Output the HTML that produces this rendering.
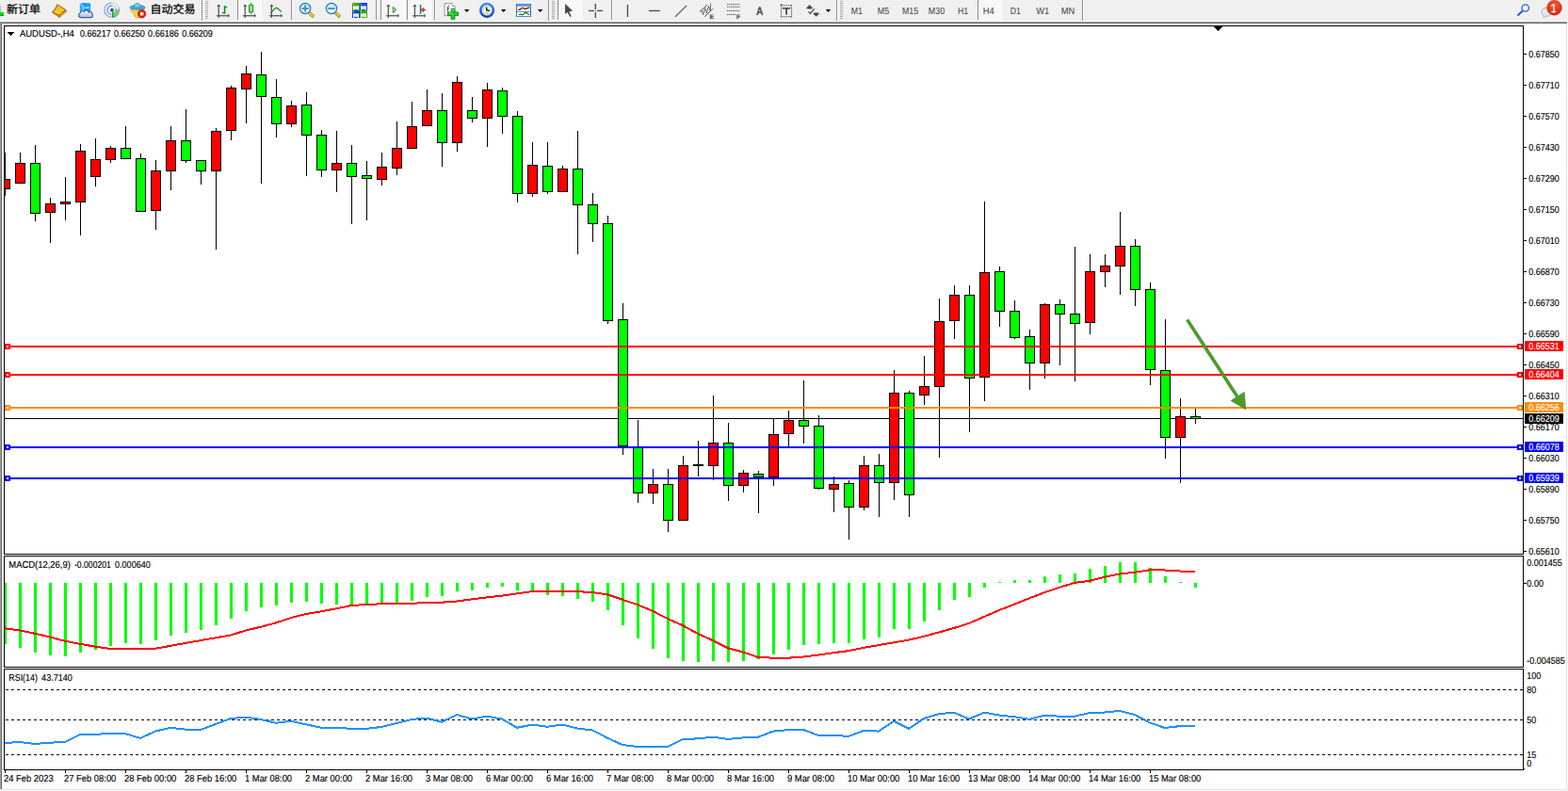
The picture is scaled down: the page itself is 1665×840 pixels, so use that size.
<!DOCTYPE html>
<html><head><meta charset="utf-8"><title>AUDUSD H4</title>
<style>
html,body{margin:0;padding:0;background:#fff;overflow:hidden}
svg{display:block;font-family:"Liberation Sans",sans-serif}
text{white-space:pre;text-rendering:geometricPrecision}
</style></head><body>
<svg width="1665" height="840" viewBox="0 0 1665 840">
<rect x="0" y="0" width="1665" height="840" fill="#ffffff"/>
<rect x="0" y="0" width="1665" height="23" fill="#f0f0f0"/>
<rect x="0" y="22" width="1665" height="1" fill="#f8f8f8"/>
<rect x="0" y="23" width="1664" height="1" fill="#a0a0a0"/>
<rect x="1" y="24" width="1663" height="1" fill="#696969"/>
<rect x="0" y="23" width="1" height="815" fill="#a0a0a0"/>
<rect x="1" y="24" width="1" height="814" fill="#696969"/>
<rect x="1663" y="25" width="1" height="814" fill="#e3e3e3"/>
<rect x="0" y="838" width="1664" height="1" fill="#e3e3e3"/>
<rect x="0" y="839" width="1665" height="1" fill="#ffffff"/>
<rect x="1664" y="23" width="1" height="817" fill="#fcfcfc"/>
<rect x="4" y="27" width="1614" height="1" fill="#000"/>
<rect x="4" y="588" width="1614" height="1" fill="#000"/>
<rect x="4" y="27" width="1" height="562" fill="#000"/>
<rect x="1617" y="27" width="1" height="562" fill="#000"/>
<rect x="4" y="590" width="1614" height="1" fill="#000"/>
<rect x="4" y="708" width="1614" height="1" fill="#000"/>
<rect x="4" y="590" width="1" height="119" fill="#000"/>
<rect x="1617" y="590" width="1" height="119" fill="#000"/>
<rect x="4" y="710" width="1614" height="1" fill="#000"/>
<rect x="4" y="817" width="1614" height="1" fill="#000"/>
<rect x="4" y="710" width="1" height="108" fill="#000"/>
<rect x="1617" y="710" width="1" height="108" fill="#000"/>
<g shape-rendering="crispEdges">
<rect x="5" y="444" width="1612" height="1" fill="#000"/>
<rect x="5" y="162" width="1" height="46" fill="#000"/>
<rect x="5" y="190" width="6" height="11" fill="#000"/>
<rect x="5" y="191" width="5" height="9" fill="#ff0000"/>
<rect x="21" y="162" width="1" height="33" fill="#000"/>
<rect x="16" y="173" width="11" height="22" fill="#000"/>
<rect x="17" y="174" width="9" height="20" fill="#ff0000"/>
<rect x="37" y="154" width="1" height="81" fill="#000"/>
<rect x="32" y="173" width="11" height="54" fill="#000"/>
<rect x="33" y="174" width="9" height="52" fill="#00ff00"/>
<rect x="53" y="210" width="1" height="48" fill="#000"/>
<rect x="48" y="216" width="11" height="10" fill="#000"/>
<rect x="49" y="217" width="9" height="8" fill="#ff0000"/>
<rect x="69" y="188" width="1" height="46" fill="#000"/>
<rect x="64" y="214" width="11" height="3" fill="#000"/>
<rect x="65" y="215" width="9" height="1" fill="#ff0000"/>
<rect x="85" y="153" width="1" height="97" fill="#000"/>
<rect x="80" y="160" width="11" height="55" fill="#000"/>
<rect x="81" y="161" width="9" height="53" fill="#ff0000"/>
<rect x="101" y="147" width="1" height="51" fill="#000"/>
<rect x="96" y="169" width="11" height="19" fill="#000"/>
<rect x="97" y="170" width="9" height="17" fill="#ff0000"/>
<rect x="117" y="155" width="1" height="18" fill="#000"/>
<rect x="112" y="157" width="11" height="13" fill="#000"/>
<rect x="113" y="158" width="9" height="11" fill="#ff0000"/>
<rect x="133" y="134" width="1" height="35" fill="#000"/>
<rect x="128" y="157" width="11" height="12" fill="#000"/>
<rect x="129" y="158" width="9" height="10" fill="#00ff00"/>
<rect x="149" y="163" width="1" height="62" fill="#000"/>
<rect x="144" y="168" width="11" height="57" fill="#000"/>
<rect x="145" y="169" width="9" height="55" fill="#00ff00"/>
<rect x="165" y="170" width="1" height="74" fill="#000"/>
<rect x="160" y="181" width="11" height="43" fill="#000"/>
<rect x="161" y="182" width="9" height="41" fill="#ff0000"/>
<rect x="181" y="134" width="1" height="68" fill="#000"/>
<rect x="176" y="149" width="11" height="33" fill="#000"/>
<rect x="177" y="150" width="9" height="31" fill="#ff0000"/>
<rect x="197" y="116" width="1" height="57" fill="#000"/>
<rect x="192" y="149" width="11" height="22" fill="#000"/>
<rect x="193" y="150" width="9" height="20" fill="#00ff00"/>
<rect x="213" y="170" width="1" height="26" fill="#000"/>
<rect x="208" y="170" width="11" height="12" fill="#000"/>
<rect x="209" y="171" width="9" height="10" fill="#00ff00"/>
<rect x="229" y="136" width="1" height="129" fill="#000"/>
<rect x="224" y="139" width="11" height="43" fill="#000"/>
<rect x="225" y="140" width="9" height="41" fill="#ff0000"/>
<rect x="245" y="91" width="1" height="58" fill="#000"/>
<rect x="240" y="93" width="11" height="46" fill="#000"/>
<rect x="241" y="94" width="9" height="44" fill="#ff0000"/>
<rect x="261" y="70" width="1" height="61" fill="#000"/>
<rect x="256" y="78" width="11" height="17" fill="#000"/>
<rect x="257" y="79" width="9" height="15" fill="#ff0000"/>
<rect x="277" y="55" width="1" height="140" fill="#000"/>
<rect x="272" y="79" width="11" height="24" fill="#000"/>
<rect x="273" y="80" width="9" height="22" fill="#00ff00"/>
<rect x="293" y="84" width="1" height="62" fill="#000"/>
<rect x="288" y="103" width="11" height="29" fill="#000"/>
<rect x="289" y="104" width="9" height="27" fill="#00ff00"/>
<rect x="309" y="107" width="1" height="28" fill="#000"/>
<rect x="304" y="112" width="11" height="20" fill="#000"/>
<rect x="305" y="113" width="9" height="18" fill="#ff0000"/>
<rect x="325" y="98" width="1" height="89" fill="#000"/>
<rect x="320" y="111" width="11" height="33" fill="#000"/>
<rect x="321" y="112" width="9" height="31" fill="#00ff00"/>
<rect x="341" y="138" width="1" height="50" fill="#000"/>
<rect x="336" y="143" width="11" height="38" fill="#000"/>
<rect x="337" y="144" width="9" height="36" fill="#00ff00"/>
<rect x="357" y="139" width="1" height="65" fill="#000"/>
<rect x="352" y="173" width="11" height="8" fill="#000"/>
<rect x="353" y="174" width="9" height="6" fill="#ff0000"/>
<rect x="373" y="154" width="1" height="84" fill="#000"/>
<rect x="368" y="173" width="11" height="15" fill="#000"/>
<rect x="369" y="174" width="9" height="13" fill="#00ff00"/>
<rect x="389" y="171" width="1" height="63" fill="#000"/>
<rect x="384" y="186" width="11" height="4" fill="#000"/>
<rect x="385" y="187" width="9" height="2" fill="#00ff00"/>
<rect x="405" y="162" width="1" height="35" fill="#000"/>
<rect x="400" y="177" width="11" height="14" fill="#000"/>
<rect x="401" y="178" width="9" height="12" fill="#ff0000"/>
<rect x="421" y="129" width="1" height="57" fill="#000"/>
<rect x="416" y="157" width="11" height="22" fill="#000"/>
<rect x="417" y="158" width="9" height="20" fill="#ff0000"/>
<rect x="437" y="108" width="1" height="50" fill="#000"/>
<rect x="432" y="134" width="11" height="24" fill="#000"/>
<rect x="433" y="135" width="9" height="22" fill="#ff0000"/>
<rect x="453" y="95" width="1" height="39" fill="#000"/>
<rect x="448" y="117" width="11" height="17" fill="#000"/>
<rect x="449" y="118" width="9" height="15" fill="#ff0000"/>
<rect x="469" y="99" width="1" height="78" fill="#000"/>
<rect x="464" y="117" width="11" height="35" fill="#000"/>
<rect x="465" y="118" width="9" height="33" fill="#00ff00"/>
<rect x="485" y="81" width="1" height="80" fill="#000"/>
<rect x="480" y="87" width="11" height="65" fill="#000"/>
<rect x="481" y="88" width="9" height="63" fill="#ff0000"/>
<rect x="501" y="103" width="1" height="27" fill="#000"/>
<rect x="496" y="117" width="11" height="9" fill="#000"/>
<rect x="497" y="118" width="9" height="7" fill="#00ff00"/>
<rect x="517" y="88" width="1" height="68" fill="#000"/>
<rect x="512" y="95" width="11" height="31" fill="#000"/>
<rect x="513" y="96" width="9" height="29" fill="#ff0000"/>
<rect x="533" y="93" width="1" height="49" fill="#000"/>
<rect x="528" y="96" width="11" height="28" fill="#000"/>
<rect x="529" y="97" width="9" height="26" fill="#00ff00"/>
<rect x="549" y="118" width="1" height="97" fill="#000"/>
<rect x="544" y="123" width="11" height="83" fill="#000"/>
<rect x="545" y="124" width="9" height="81" fill="#00ff00"/>
<rect x="565" y="151" width="1" height="58" fill="#000"/>
<rect x="560" y="175" width="11" height="31" fill="#000"/>
<rect x="561" y="176" width="9" height="29" fill="#ff0000"/>
<rect x="581" y="151" width="1" height="55" fill="#000"/>
<rect x="576" y="176" width="11" height="28" fill="#000"/>
<rect x="577" y="177" width="9" height="26" fill="#00ff00"/>
<rect x="597" y="176" width="1" height="28" fill="#000"/>
<rect x="592" y="179" width="11" height="25" fill="#000"/>
<rect x="593" y="180" width="9" height="23" fill="#ff0000"/>
<rect x="613" y="139" width="1" height="131" fill="#000"/>
<rect x="608" y="179" width="11" height="39" fill="#000"/>
<rect x="609" y="180" width="9" height="37" fill="#00ff00"/>
<rect x="629" y="205" width="1" height="52" fill="#000"/>
<rect x="624" y="217" width="11" height="21" fill="#000"/>
<rect x="625" y="218" width="9" height="19" fill="#00ff00"/>
<rect x="645" y="229" width="1" height="115" fill="#000"/>
<rect x="640" y="237" width="11" height="104" fill="#000"/>
<rect x="641" y="238" width="9" height="102" fill="#00ff00"/>
<rect x="661" y="322" width="1" height="161" fill="#000"/>
<rect x="656" y="339" width="11" height="135" fill="#000"/>
<rect x="657" y="340" width="9" height="133" fill="#00ff00"/>
<rect x="677" y="446" width="1" height="88" fill="#000"/>
<rect x="672" y="474" width="11" height="50" fill="#000"/>
<rect x="673" y="475" width="9" height="48" fill="#00ff00"/>
<rect x="693" y="498" width="1" height="37" fill="#000"/>
<rect x="688" y="514" width="11" height="10" fill="#000"/>
<rect x="689" y="515" width="9" height="8" fill="#ff0000"/>
<rect x="709" y="498" width="1" height="67" fill="#000"/>
<rect x="704" y="514" width="11" height="39" fill="#000"/>
<rect x="705" y="515" width="9" height="37" fill="#00ff00"/>
<rect x="725" y="484" width="1" height="69" fill="#000"/>
<rect x="720" y="494" width="11" height="59" fill="#000"/>
<rect x="721" y="495" width="9" height="57" fill="#ff0000"/>
<rect x="741" y="468" width="1" height="38" fill="#000"/>
<rect x="736" y="493" width="11" height="2" fill="#000"/>
<rect x="757" y="420" width="1" height="90" fill="#000"/>
<rect x="752" y="470" width="11" height="25" fill="#000"/>
<rect x="753" y="471" width="9" height="23" fill="#ff0000"/>
<rect x="773" y="449" width="1" height="83" fill="#000"/>
<rect x="768" y="470" width="11" height="46" fill="#000"/>
<rect x="769" y="471" width="9" height="44" fill="#00ff00"/>
<rect x="789" y="499" width="1" height="24" fill="#000"/>
<rect x="784" y="502" width="11" height="14" fill="#000"/>
<rect x="785" y="503" width="9" height="12" fill="#ff0000"/>
<rect x="805" y="500" width="1" height="45" fill="#000"/>
<rect x="800" y="503" width="11" height="4" fill="#000"/>
<rect x="801" y="504" width="9" height="2" fill="#00ff00"/>
<rect x="821" y="444" width="1" height="72" fill="#000"/>
<rect x="816" y="461" width="11" height="46" fill="#000"/>
<rect x="817" y="462" width="9" height="44" fill="#ff0000"/>
<rect x="837" y="436" width="1" height="38" fill="#000"/>
<rect x="832" y="446" width="11" height="15" fill="#000"/>
<rect x="833" y="447" width="9" height="13" fill="#ff0000"/>
<rect x="853" y="404" width="1" height="67" fill="#000"/>
<rect x="848" y="446" width="11" height="7" fill="#000"/>
<rect x="849" y="447" width="9" height="5" fill="#00ff00"/>
<rect x="869" y="441" width="1" height="79" fill="#000"/>
<rect x="864" y="452" width="11" height="67" fill="#000"/>
<rect x="865" y="453" width="9" height="65" fill="#00ff00"/>
<rect x="885" y="506" width="1" height="38" fill="#000"/>
<rect x="880" y="514" width="11" height="6" fill="#000"/>
<rect x="881" y="515" width="9" height="4" fill="#ff0000"/>
<rect x="901" y="510" width="1" height="63" fill="#000"/>
<rect x="896" y="513" width="11" height="26" fill="#000"/>
<rect x="897" y="514" width="9" height="24" fill="#00ff00"/>
<rect x="917" y="484" width="1" height="58" fill="#000"/>
<rect x="912" y="494" width="11" height="45" fill="#000"/>
<rect x="913" y="495" width="9" height="43" fill="#ff0000"/>
<rect x="933" y="482" width="1" height="67" fill="#000"/>
<rect x="928" y="494" width="11" height="19" fill="#000"/>
<rect x="929" y="495" width="9" height="17" fill="#00ff00"/>
<rect x="949" y="393" width="1" height="138" fill="#000"/>
<rect x="944" y="417" width="11" height="96" fill="#000"/>
<rect x="945" y="418" width="9" height="94" fill="#ff0000"/>
<rect x="965" y="415" width="1" height="134" fill="#000"/>
<rect x="960" y="417" width="11" height="109" fill="#000"/>
<rect x="961" y="418" width="9" height="107" fill="#00ff00"/>
<rect x="981" y="378" width="1" height="52" fill="#000"/>
<rect x="976" y="410" width="11" height="10" fill="#000"/>
<rect x="977" y="411" width="9" height="8" fill="#ff0000"/>
<rect x="997" y="317" width="1" height="169" fill="#000"/>
<rect x="992" y="341" width="11" height="70" fill="#000"/>
<rect x="993" y="342" width="9" height="68" fill="#ff0000"/>
<rect x="1013" y="303" width="1" height="57" fill="#000"/>
<rect x="1008" y="313" width="11" height="28" fill="#000"/>
<rect x="1009" y="314" width="9" height="26" fill="#ff0000"/>
<rect x="1029" y="303" width="1" height="156" fill="#000"/>
<rect x="1024" y="313" width="11" height="89" fill="#000"/>
<rect x="1025" y="314" width="9" height="87" fill="#00ff00"/>
<rect x="1045" y="214" width="1" height="212" fill="#000"/>
<rect x="1040" y="289" width="11" height="112" fill="#000"/>
<rect x="1041" y="290" width="9" height="110" fill="#ff0000"/>
<rect x="1061" y="283" width="1" height="64" fill="#000"/>
<rect x="1056" y="288" width="11" height="43" fill="#000"/>
<rect x="1057" y="289" width="9" height="41" fill="#00ff00"/>
<rect x="1077" y="319" width="1" height="41" fill="#000"/>
<rect x="1072" y="330" width="11" height="29" fill="#000"/>
<rect x="1073" y="331" width="9" height="27" fill="#00ff00"/>
<rect x="1093" y="350" width="1" height="64" fill="#000"/>
<rect x="1088" y="357" width="11" height="29" fill="#000"/>
<rect x="1089" y="358" width="9" height="27" fill="#00ff00"/>
<rect x="1109" y="322" width="1" height="80" fill="#000"/>
<rect x="1104" y="323" width="11" height="63" fill="#000"/>
<rect x="1105" y="324" width="9" height="61" fill="#ff0000"/>
<rect x="1125" y="318" width="1" height="70" fill="#000"/>
<rect x="1120" y="323" width="11" height="11" fill="#000"/>
<rect x="1121" y="324" width="9" height="9" fill="#00ff00"/>
<rect x="1141" y="262" width="1" height="143" fill="#000"/>
<rect x="1136" y="333" width="11" height="11" fill="#000"/>
<rect x="1137" y="334" width="9" height="9" fill="#00ff00"/>
<rect x="1157" y="270" width="1" height="85" fill="#000"/>
<rect x="1152" y="288" width="11" height="55" fill="#000"/>
<rect x="1153" y="289" width="9" height="53" fill="#ff0000"/>
<rect x="1173" y="270" width="1" height="35" fill="#000"/>
<rect x="1168" y="282" width="11" height="7" fill="#000"/>
<rect x="1169" y="283" width="9" height="5" fill="#ff0000"/>
<rect x="1189" y="225" width="1" height="88" fill="#000"/>
<rect x="1184" y="261" width="11" height="22" fill="#000"/>
<rect x="1185" y="262" width="9" height="20" fill="#ff0000"/>
<rect x="1205" y="254" width="1" height="71" fill="#000"/>
<rect x="1200" y="261" width="11" height="47" fill="#000"/>
<rect x="1201" y="262" width="9" height="45" fill="#00ff00"/>
<rect x="1221" y="300" width="1" height="109" fill="#000"/>
<rect x="1216" y="307" width="11" height="86" fill="#000"/>
<rect x="1217" y="308" width="9" height="84" fill="#00ff00"/>
<rect x="1237" y="339" width="1" height="148" fill="#000"/>
<rect x="1232" y="393" width="11" height="72" fill="#000"/>
<rect x="1233" y="394" width="9" height="70" fill="#00ff00"/>
<rect x="1253" y="423" width="1" height="90" fill="#000"/>
<rect x="1248" y="442" width="11" height="23" fill="#000"/>
<rect x="1249" y="443" width="9" height="21" fill="#ff0000"/>
<rect x="1269" y="433" width="1" height="17" fill="#000"/>
<rect x="1264" y="442" width="11" height="3" fill="#000"/>
<rect x="1265" y="443" width="9" height="1" fill="#00ff00"/>
</g>
<rect x="1618" y="57" width="3" height="1" fill="#000"/>
<text x="1623.3" y="61" font-size="10.2" fill="#000" text-anchor="start" stroke="#000" stroke-width="0.15" textLength="32.40" lengthAdjust="spacingAndGlyphs">0.67850</text>
<rect x="1618" y="90" width="3" height="1" fill="#000"/>
<text x="1623.3" y="94" font-size="10.2" fill="#000" text-anchor="start" stroke="#000" stroke-width="0.15" textLength="32.40" lengthAdjust="spacingAndGlyphs">0.67710</text>
<rect x="1618" y="123" width="3" height="1" fill="#000"/>
<text x="1623.3" y="127" font-size="10.2" fill="#000" text-anchor="start" stroke="#000" stroke-width="0.15" textLength="32.40" lengthAdjust="spacingAndGlyphs">0.67570</text>
<rect x="1618" y="156" width="3" height="1" fill="#000"/>
<text x="1623.3" y="160" font-size="10.2" fill="#000" text-anchor="start" stroke="#000" stroke-width="0.15" textLength="32.40" lengthAdjust="spacingAndGlyphs">0.67430</text>
<rect x="1618" y="189" width="3" height="1" fill="#000"/>
<text x="1623.3" y="193" font-size="10.2" fill="#000" text-anchor="start" stroke="#000" stroke-width="0.15" textLength="32.40" lengthAdjust="spacingAndGlyphs">0.67290</text>
<rect x="1618" y="222" width="3" height="1" fill="#000"/>
<text x="1623.3" y="226" font-size="10.2" fill="#000" text-anchor="start" stroke="#000" stroke-width="0.15" textLength="32.40" lengthAdjust="spacingAndGlyphs">0.67150</text>
<rect x="1618" y="255" width="3" height="1" fill="#000"/>
<text x="1623.3" y="259" font-size="10.2" fill="#000" text-anchor="start" stroke="#000" stroke-width="0.15" textLength="32.40" lengthAdjust="spacingAndGlyphs">0.67010</text>
<rect x="1618" y="288" width="3" height="1" fill="#000"/>
<text x="1623.3" y="292" font-size="10.2" fill="#000" text-anchor="start" stroke="#000" stroke-width="0.15" textLength="32.40" lengthAdjust="spacingAndGlyphs">0.66870</text>
<rect x="1618" y="321" width="3" height="1" fill="#000"/>
<text x="1623.3" y="325" font-size="10.2" fill="#000" text-anchor="start" stroke="#000" stroke-width="0.15" textLength="32.40" lengthAdjust="spacingAndGlyphs">0.66730</text>
<rect x="1618" y="354" width="3" height="1" fill="#000"/>
<text x="1623.3" y="358" font-size="10.2" fill="#000" text-anchor="start" stroke="#000" stroke-width="0.15" textLength="32.40" lengthAdjust="spacingAndGlyphs">0.66590</text>
<rect x="1618" y="387" width="3" height="1" fill="#000"/>
<text x="1623.3" y="391" font-size="10.2" fill="#000" text-anchor="start" stroke="#000" stroke-width="0.15" textLength="32.40" lengthAdjust="spacingAndGlyphs">0.66450</text>
<rect x="1618" y="420" width="3" height="1" fill="#000"/>
<text x="1623.3" y="424" font-size="10.2" fill="#000" text-anchor="start" stroke="#000" stroke-width="0.15" textLength="32.40" lengthAdjust="spacingAndGlyphs">0.66310</text>
<rect x="1618" y="453" width="3" height="1" fill="#000"/>
<text x="1623.3" y="457" font-size="10.2" fill="#000" text-anchor="start" stroke="#000" stroke-width="0.15" textLength="32.40" lengthAdjust="spacingAndGlyphs">0.66170</text>
<rect x="1618" y="486" width="3" height="1" fill="#000"/>
<text x="1623.3" y="490" font-size="10.2" fill="#000" text-anchor="start" stroke="#000" stroke-width="0.15" textLength="32.40" lengthAdjust="spacingAndGlyphs">0.66030</text>
<rect x="1618" y="519" width="3" height="1" fill="#000"/>
<text x="1623.3" y="523" font-size="10.2" fill="#000" text-anchor="start" stroke="#000" stroke-width="0.15" textLength="32.40" lengthAdjust="spacingAndGlyphs">0.65890</text>
<rect x="1618" y="552" width="3" height="1" fill="#000"/>
<text x="1623.3" y="556" font-size="10.2" fill="#000" text-anchor="start" stroke="#000" stroke-width="0.15" textLength="32.40" lengthAdjust="spacingAndGlyphs">0.65750</text>
<rect x="1618" y="585" width="3" height="1" fill="#000"/>
<text x="1623.3" y="589" font-size="10.2" fill="#000" text-anchor="start" stroke="#000" stroke-width="0.15" textLength="32.40" lengthAdjust="spacingAndGlyphs">0.65610</text>
<g shape-rendering="crispEdges">
<rect x="5" y="367" width="1612" height="2" fill="#ff0000"/>
<rect x="5" y="365" width="6" height="6" fill="#ff0000"/>
<rect x="7" y="367" width="2" height="2" fill="#fff"/>
<rect x="1611" y="365" width="6" height="6" fill="#ff0000"/>
<rect x="1613" y="367" width="2" height="2" fill="#fff"/>
<rect x="1619" y="362" width="41" height="11" fill="#ff0000"/>
<text x="1623.3" y="371.2" font-size="10.2" fill="#fff" text-anchor="start" stroke="#fff" stroke-width="0.15" textLength="32.40" lengthAdjust="spacingAndGlyphs">0.66531</text>
<rect x="5" y="397" width="1612" height="2" fill="#ff0000"/>
<rect x="5" y="395" width="6" height="6" fill="#ff0000"/>
<rect x="7" y="397" width="2" height="2" fill="#fff"/>
<rect x="1611" y="395" width="6" height="6" fill="#ff0000"/>
<rect x="1613" y="397" width="2" height="2" fill="#fff"/>
<rect x="1619" y="392" width="41" height="11" fill="#ff0000"/>
<text x="1623.3" y="401.2" font-size="10.2" fill="#fff" text-anchor="start" stroke="#fff" stroke-width="0.15" textLength="32.40" lengthAdjust="spacingAndGlyphs">0.66404</text>
<rect x="5" y="432" width="1612" height="2" fill="#ff8c00"/>
<rect x="5" y="430" width="6" height="6" fill="#ff8c00"/>
<rect x="7" y="432" width="2" height="2" fill="#fff"/>
<rect x="1611" y="430" width="6" height="6" fill="#ff8c00"/>
<rect x="1613" y="432" width="2" height="2" fill="#fff"/>
<rect x="1619" y="427" width="41" height="11" fill="#ff8c00"/>
<text x="1623.3" y="436.2" font-size="10.2" fill="#fff" text-anchor="start" stroke="#fff" stroke-width="0.15" textLength="32.40" lengthAdjust="spacingAndGlyphs">0.66256</text>
<rect x="5" y="474" width="1612" height="2" fill="#0000ff"/>
<rect x="5" y="472" width="6" height="6" fill="#0000ff"/>
<rect x="7" y="474" width="2" height="2" fill="#fff"/>
<rect x="1611" y="472" width="6" height="6" fill="#0000ff"/>
<rect x="1613" y="474" width="2" height="2" fill="#fff"/>
<rect x="1619" y="469" width="41" height="11" fill="#0000ff"/>
<text x="1623.3" y="478.2" font-size="10.2" fill="#fff" text-anchor="start" stroke="#fff" stroke-width="0.15" textLength="32.40" lengthAdjust="spacingAndGlyphs">0.66078</text>
<rect x="5" y="507" width="1612" height="2" fill="#0000ff"/>
<rect x="5" y="505" width="6" height="6" fill="#0000ff"/>
<rect x="7" y="507" width="2" height="2" fill="#fff"/>
<rect x="1611" y="505" width="6" height="6" fill="#0000ff"/>
<rect x="1613" y="507" width="2" height="2" fill="#fff"/>
<rect x="1619" y="502" width="41" height="11" fill="#0000ff"/>
<text x="1623.3" y="511.2" font-size="10.2" fill="#fff" text-anchor="start" stroke="#fff" stroke-width="0.15" textLength="32.40" lengthAdjust="spacingAndGlyphs">0.65939</text>
</g>
<line x1="1260.7" y1="339.6" x2="1315" y2="423" stroke="#4e9a2e" stroke-width="3.6"/>
<polygon points="1323.3,435.5 1306.5,425.5 1321.6,415.8" fill="#4e9a2e"/>
<rect x="1619" y="439" width="41" height="11" fill="#000"/>
<text x="1623.3" y="448" font-size="10.2" fill="#fff" text-anchor="start" stroke="#fff" stroke-width="0.15" textLength="32.40" lengthAdjust="spacingAndGlyphs">0.66209</text>
<rect x="1289" y="28" width="9" height="1" fill="#000"/>
<rect x="1290" y="29" width="7" height="1" fill="#000"/>
<rect x="1291" y="30" width="5" height="1" fill="#000"/>
<rect x="1292" y="31" width="3" height="1" fill="#000"/>
<rect x="1293" y="32" width="1" height="1" fill="#000"/>
<rect x="8" y="34" width="7" height="1" fill="#000"/>
<rect x="9" y="35" width="5" height="1" fill="#000"/>
<rect x="10" y="36" width="3" height="1" fill="#000"/>
<rect x="11" y="37" width="1" height="1" fill="#000"/>
<text x="20.9" y="39" font-size="10.2" fill="#000" text-anchor="start" stroke="#000" stroke-width="0.15" textLength="58.00" lengthAdjust="spacingAndGlyphs">AUDUSD-,H4</text>
<text x="85" y="39" font-size="10.2" fill="#000" text-anchor="start" stroke="#000" stroke-width="0.15" textLength="32.70" lengthAdjust="spacingAndGlyphs">0.66217</text>
<text x="121.05" y="39" font-size="10.2" fill="#000" text-anchor="start" stroke="#000" stroke-width="0.15" textLength="32.70" lengthAdjust="spacingAndGlyphs">0.66250</text>
<text x="157.1" y="39" font-size="10.2" fill="#000" text-anchor="start" stroke="#000" stroke-width="0.15" textLength="32.70" lengthAdjust="spacingAndGlyphs">0.66186</text>
<text x="193.15" y="39" font-size="10.2" fill="#000" text-anchor="start" stroke="#000" stroke-width="0.15" textLength="32.70" lengthAdjust="spacingAndGlyphs">0.66209</text>
<text x="9.3" y="603" font-size="10.2" fill="#000" text-anchor="start" stroke="#000" stroke-width="0.15" textLength="65.60" lengthAdjust="spacingAndGlyphs">MACD(12,26,9)</text>
<text x="79" y="603" font-size="10.2" fill="#000" text-anchor="start" stroke="#000" stroke-width="0.15" textLength="38.80" lengthAdjust="spacingAndGlyphs">-0.000201</text>
<text x="122.1" y="603" font-size="10.2" fill="#000" text-anchor="start" stroke="#000" stroke-width="0.15" textLength="37.60" lengthAdjust="spacingAndGlyphs">0.000640</text>
<g shape-rendering="crispEdges">
<rect x="5" y="619" width="2" height="65" fill="#00ff00"/>
<rect x="20" y="619" width="3" height="69" fill="#00ff00"/>
<rect x="36" y="619" width="3" height="74" fill="#00ff00"/>
<rect x="52" y="619" width="3" height="77" fill="#00ff00"/>
<rect x="68" y="619" width="3" height="78" fill="#00ff00"/>
<rect x="84" y="619" width="3" height="74" fill="#00ff00"/>
<rect x="100" y="619" width="3" height="71" fill="#00ff00"/>
<rect x="116" y="619" width="3" height="67" fill="#00ff00"/>
<rect x="132" y="619" width="3" height="64" fill="#00ff00"/>
<rect x="148" y="619" width="3" height="65" fill="#00ff00"/>
<rect x="164" y="619" width="3" height="61" fill="#00ff00"/>
<rect x="180" y="619" width="3" height="56" fill="#00ff00"/>
<rect x="196" y="619" width="3" height="53" fill="#00ff00"/>
<rect x="212" y="619" width="3" height="50" fill="#00ff00"/>
<rect x="228" y="619" width="3" height="45" fill="#00ff00"/>
<rect x="244" y="619" width="3" height="38" fill="#00ff00"/>
<rect x="260" y="619" width="3" height="30" fill="#00ff00"/>
<rect x="276" y="619" width="3" height="26" fill="#00ff00"/>
<rect x="292" y="619" width="3" height="24" fill="#00ff00"/>
<rect x="308" y="619" width="3" height="21" fill="#00ff00"/>
<rect x="324" y="619" width="3" height="20" fill="#00ff00"/>
<rect x="340" y="619" width="3" height="22" fill="#00ff00"/>
<rect x="356" y="619" width="3" height="23" fill="#00ff00"/>
<rect x="372" y="619" width="3" height="24" fill="#00ff00"/>
<rect x="388" y="619" width="3" height="24" fill="#00ff00"/>
<rect x="404" y="619" width="3" height="23" fill="#00ff00"/>
<rect x="420" y="619" width="3" height="21" fill="#00ff00"/>
<rect x="436" y="619" width="3" height="19" fill="#00ff00"/>
<rect x="452" y="619" width="3" height="15" fill="#00ff00"/>
<rect x="468" y="619" width="3" height="14" fill="#00ff00"/>
<rect x="484" y="619" width="3" height="9" fill="#00ff00"/>
<rect x="500" y="619" width="3" height="8" fill="#00ff00"/>
<rect x="516" y="619" width="3" height="5" fill="#00ff00"/>
<rect x="532" y="619" width="3" height="4" fill="#00ff00"/>
<rect x="548" y="619" width="3" height="8" fill="#00ff00"/>
<rect x="564" y="619" width="3" height="10" fill="#00ff00"/>
<rect x="580" y="619" width="3" height="13" fill="#00ff00"/>
<rect x="596" y="619" width="3" height="14" fill="#00ff00"/>
<rect x="612" y="619" width="3" height="17" fill="#00ff00"/>
<rect x="628" y="619" width="3" height="20" fill="#00ff00"/>
<rect x="644" y="619" width="3" height="29" fill="#00ff00"/>
<rect x="660" y="619" width="3" height="45" fill="#00ff00"/>
<rect x="676" y="619" width="3" height="59" fill="#00ff00"/>
<rect x="692" y="619" width="3" height="70" fill="#00ff00"/>
<rect x="708" y="619" width="3" height="80" fill="#00ff00"/>
<rect x="724" y="619" width="3" height="83" fill="#00ff00"/>
<rect x="740" y="619" width="3" height="84" fill="#00ff00"/>
<rect x="756" y="619" width="3" height="83" fill="#00ff00"/>
<rect x="772" y="619" width="3" height="84" fill="#00ff00"/>
<rect x="788" y="619" width="3" height="83" fill="#00ff00"/>
<rect x="804" y="619" width="3" height="81" fill="#00ff00"/>
<rect x="820" y="619" width="3" height="76" fill="#00ff00"/>
<rect x="836" y="619" width="3" height="71" fill="#00ff00"/>
<rect x="852" y="619" width="3" height="66" fill="#00ff00"/>
<rect x="868" y="619" width="3" height="65" fill="#00ff00"/>
<rect x="884" y="619" width="3" height="64" fill="#00ff00"/>
<rect x="900" y="619" width="3" height="64" fill="#00ff00"/>
<rect x="916" y="619" width="3" height="60" fill="#00ff00"/>
<rect x="932" y="619" width="3" height="58" fill="#00ff00"/>
<rect x="948" y="619" width="3" height="49" fill="#00ff00"/>
<rect x="964" y="619" width="3" height="49" fill="#00ff00"/>
<rect x="980" y="619" width="3" height="41" fill="#00ff00"/>
<rect x="996" y="619" width="3" height="29" fill="#00ff00"/>
<rect x="1012" y="619" width="3" height="18" fill="#00ff00"/>
<rect x="1028" y="619" width="3" height="15" fill="#00ff00"/>
<rect x="1044" y="619" width="3" height="5" fill="#00ff00"/>
<rect x="1060" y="618" width="3" height="1" fill="#00ff00"/>
<rect x="1076" y="616" width="3" height="3" fill="#00ff00"/>
<rect x="1092" y="616" width="3" height="3" fill="#00ff00"/>
<rect x="1108" y="612" width="3" height="7" fill="#00ff00"/>
<rect x="1124" y="610" width="3" height="9" fill="#00ff00"/>
<rect x="1140" y="609" width="3" height="10" fill="#00ff00"/>
<rect x="1156" y="604" width="3" height="15" fill="#00ff00"/>
<rect x="1172" y="601" width="3" height="18" fill="#00ff00"/>
<rect x="1188" y="597" width="3" height="22" fill="#00ff00"/>
<rect x="1204" y="597" width="3" height="22" fill="#00ff00"/>
<rect x="1220" y="603" width="3" height="16" fill="#00ff00"/>
<rect x="1236" y="612" width="3" height="7" fill="#00ff00"/>
<rect x="1252" y="618" width="3" height="1" fill="#00ff00"/>
<rect x="1268" y="619" width="3" height="5" fill="#00ff00"/>
</g>
<polyline points="5,667.2 21,669.5 37,672.8 53,676.5 69,680.8 85,683.9 101,686.6 117,688.9 133,688.9 149,688.9 165,688.7 181,685.9 197,682.9 213,680.1 229,677.3 245,674.5 261,669.5 277,665.7 293,661.4 309,656.1 325,652.1 341,649.3 357,646.3 373,643.0 389,642.0 405,641.3 421,641.0 437,640.7 453,640.2 469,639.7 485,638.5 501,636.4 517,634.4 533,632.7 549,630.4 565,628.1 581,627.9 597,627.9 613,628.1 629,629.1 645,631.4 661,636.7 677,642.2 693,648.8 709,657.1 725,664.2 741,673.0 757,680.1 773,688.4 789,692.4 805,698.0 821,698.7 837,698.7 853,697.5 869,695.5 885,693.2 901,691.2 917,687.9 933,685.1 949,682.3 965,679.6 981,675.8 997,671.5 1013,667.0 1029,661.9 1045,654.9 1061,648.0 1077,641.7 1093,635.4 1109,629.2 1125,623.8 1141,618.9 1157,616.9 1173,612.7 1189,609.5 1205,607.7 1221,605.3 1237,605.5 1253,606.5 1269,607.0" fill="none" stroke="#ff0000" stroke-width="2" stroke-linejoin="round" shape-rendering="crispEdges"/>
<text x="1621.3" y="601" font-size="10.2" fill="#000" text-anchor="start" stroke="#000" stroke-width="0.15" textLength="37.50" lengthAdjust="spacingAndGlyphs">0.001455</text>
<text x="1621.3" y="623" font-size="10.2" fill="#000" text-anchor="start" stroke="#000" stroke-width="0.15" textLength="17.70" lengthAdjust="spacingAndGlyphs">0.00</text>
<text x="1621.3" y="705" font-size="10.2" fill="#000" text-anchor="start" stroke="#000" stroke-width="0.15" textLength="40.50" lengthAdjust="spacingAndGlyphs">-0.004585</text>
<rect x="1618" y="619" width="3" height="1" fill="#000"/>
<text x="9.3" y="723" font-size="10.2" fill="#000" text-anchor="start" stroke="#000" stroke-width="0.15" textLength="30.60" lengthAdjust="spacingAndGlyphs">RSI(14)</text>
<text x="44.1" y="723" font-size="10.2" fill="#000" text-anchor="start" stroke="#000" stroke-width="0.15" textLength="32.80" lengthAdjust="spacingAndGlyphs">43.7140</text>
<line x1="5" y1="732.5" x2="1617" y2="732.5" stroke="#000" stroke-width="1" stroke-dasharray="3 3" stroke-dashoffset="5" shape-rendering="crispEdges"/>
<line x1="5" y1="764.5" x2="1617" y2="764.5" stroke="#000" stroke-width="1" stroke-dasharray="3 3" stroke-dashoffset="5" shape-rendering="crispEdges"/>
<line x1="5" y1="801.5" x2="1617" y2="801.5" stroke="#000" stroke-width="1" stroke-dasharray="3 3" stroke-dashoffset="5" shape-rendering="crispEdges"/>
<polyline points="5,789.0 21,788.0 37,790.0 53,788.7 69,788.0 85,779.9 101,779.9 117,778.9 133,779.1 149,783.9 165,776.6 181,772.8 197,774.6 213,774.9 229,769.0 245,763.0 261,761.7 277,764.0 293,767.8 309,765.8 325,769.3 341,772.8 357,772.8 373,773.8 389,773.8 405,772.0 421,768.0 437,764.0 453,762.5 469,766.8 485,759.0 501,763.5 517,760.7 533,763.5 549,772.8 565,769.6 581,771.8 597,769.6 613,773.6 629,775.4 645,783.7 661,791.0 677,793.0 693,793.0 709,793.0 725,784.9 741,784.4 757,782.7 773,784.9 789,783.4 805,782.7 821,776.6 837,775.1 853,774.9 869,780.9 885,780.9 901,781.9 917,775.9 933,776.6 949,765.8 965,773.8 981,763.0 997,758.2 1013,756.7 1029,763.5 1045,756.7 1061,759.5 1077,761.2 1093,763.8 1109,759.7 1125,760.7 1141,760.7 1157,757.1 1173,756.5 1189,754.9 1205,759.1 1221,767.5 1237,773.0 1253,771.1 1269,771.1" fill="none" stroke="#1e90ff" stroke-width="2" stroke-linejoin="round" shape-rendering="crispEdges"/>
<text x="1621.3" y="721" font-size="10.2" fill="#000" text-anchor="start" stroke="#000" stroke-width="0.15" textLength="14.96" lengthAdjust="spacingAndGlyphs">100</text>
<text x="1621.3" y="736" font-size="10.2" fill="#000" text-anchor="start" stroke="#000" stroke-width="0.15" textLength="9.97" lengthAdjust="spacingAndGlyphs">80</text>
<text x="1621.3" y="768" font-size="10.2" fill="#000" text-anchor="start" stroke="#000" stroke-width="0.15" textLength="9.97" lengthAdjust="spacingAndGlyphs">50</text>
<text x="1621.3" y="805" font-size="10.2" fill="#000" text-anchor="start" stroke="#000" stroke-width="0.15" textLength="9.97" lengthAdjust="spacingAndGlyphs">15</text>
<text x="1621.3" y="814" font-size="10.2" fill="#000" text-anchor="start" stroke="#000" stroke-width="0.15" textLength="4.99" lengthAdjust="spacingAndGlyphs">0</text>
<rect x="1618" y="816" width="1" height="1" fill="#000"/>
<rect x="5" y="818" width="1" height="3" fill="#000"/>
<text x="4" y="830" font-size="10.2" fill="#000" text-anchor="start" stroke="#000" stroke-width="0.15" textLength="52.72" lengthAdjust="spacingAndGlyphs">24 Feb 2023</text>
<rect x="69" y="818" width="1" height="3" fill="#000"/>
<text x="68" y="830" font-size="10.2" fill="#000" text-anchor="start" stroke="#000" stroke-width="0.15" textLength="55.33" lengthAdjust="spacingAndGlyphs">27 Feb 08:00</text>
<rect x="133" y="818" width="1" height="3" fill="#000"/>
<text x="132" y="830" font-size="10.2" fill="#000" text-anchor="start" stroke="#000" stroke-width="0.15" textLength="55.33" lengthAdjust="spacingAndGlyphs">28 Feb 00:00</text>
<rect x="197" y="818" width="1" height="3" fill="#000"/>
<text x="196" y="830" font-size="10.2" fill="#000" text-anchor="start" stroke="#000" stroke-width="0.15" textLength="55.33" lengthAdjust="spacingAndGlyphs">28 Feb 16:00</text>
<rect x="261" y="818" width="1" height="3" fill="#000"/>
<text x="260" y="830" font-size="10.2" fill="#000" text-anchor="start" stroke="#000" stroke-width="0.15" textLength="50.10" lengthAdjust="spacingAndGlyphs">1 Mar 08:00</text>
<rect x="325" y="818" width="1" height="3" fill="#000"/>
<text x="324" y="830" font-size="10.2" fill="#000" text-anchor="start" stroke="#000" stroke-width="0.15" textLength="50.10" lengthAdjust="spacingAndGlyphs">2 Mar 00:00</text>
<rect x="389" y="818" width="1" height="3" fill="#000"/>
<text x="388" y="830" font-size="10.2" fill="#000" text-anchor="start" stroke="#000" stroke-width="0.15" textLength="50.10" lengthAdjust="spacingAndGlyphs">2 Mar 16:00</text>
<rect x="453" y="818" width="1" height="3" fill="#000"/>
<text x="452" y="830" font-size="10.2" fill="#000" text-anchor="start" stroke="#000" stroke-width="0.15" textLength="50.10" lengthAdjust="spacingAndGlyphs">3 Mar 08:00</text>
<rect x="517" y="818" width="1" height="3" fill="#000"/>
<text x="516" y="830" font-size="10.2" fill="#000" text-anchor="start" stroke="#000" stroke-width="0.15" textLength="50.10" lengthAdjust="spacingAndGlyphs">6 Mar 00:00</text>
<rect x="581" y="818" width="1" height="3" fill="#000"/>
<text x="580" y="830" font-size="10.2" fill="#000" text-anchor="start" stroke="#000" stroke-width="0.15" textLength="50.10" lengthAdjust="spacingAndGlyphs">6 Mar 16:00</text>
<rect x="645" y="818" width="1" height="3" fill="#000"/>
<text x="644" y="830" font-size="10.2" fill="#000" text-anchor="start" stroke="#000" stroke-width="0.15" textLength="50.10" lengthAdjust="spacingAndGlyphs">7 Mar 08:00</text>
<rect x="709" y="818" width="1" height="3" fill="#000"/>
<text x="708" y="830" font-size="10.2" fill="#000" text-anchor="start" stroke="#000" stroke-width="0.15" textLength="50.10" lengthAdjust="spacingAndGlyphs">8 Mar 00:00</text>
<rect x="773" y="818" width="1" height="3" fill="#000"/>
<text x="772" y="830" font-size="10.2" fill="#000" text-anchor="start" stroke="#000" stroke-width="0.15" textLength="50.10" lengthAdjust="spacingAndGlyphs">8 Mar 16:00</text>
<rect x="837" y="818" width="1" height="3" fill="#000"/>
<text x="836" y="830" font-size="10.2" fill="#000" text-anchor="start" stroke="#000" stroke-width="0.15" textLength="50.10" lengthAdjust="spacingAndGlyphs">9 Mar 08:00</text>
<rect x="901" y="818" width="1" height="3" fill="#000"/>
<text x="900" y="830" font-size="10.2" fill="#000" text-anchor="start" stroke="#000" stroke-width="0.15" textLength="55.32" lengthAdjust="spacingAndGlyphs">10 Mar 00:00</text>
<rect x="965" y="818" width="1" height="3" fill="#000"/>
<text x="964" y="830" font-size="10.2" fill="#000" text-anchor="start" stroke="#000" stroke-width="0.15" textLength="55.32" lengthAdjust="spacingAndGlyphs">10 Mar 16:00</text>
<rect x="1029" y="818" width="1" height="3" fill="#000"/>
<text x="1028" y="830" font-size="10.2" fill="#000" text-anchor="start" stroke="#000" stroke-width="0.15" textLength="55.32" lengthAdjust="spacingAndGlyphs">13 Mar 08:00</text>
<rect x="1093" y="818" width="1" height="3" fill="#000"/>
<text x="1092" y="830" font-size="10.2" fill="#000" text-anchor="start" stroke="#000" stroke-width="0.15" textLength="55.32" lengthAdjust="spacingAndGlyphs">14 Mar 00:00</text>
<rect x="1157" y="818" width="1" height="3" fill="#000"/>
<text x="1156" y="830" font-size="10.2" fill="#000" text-anchor="start" stroke="#000" stroke-width="0.15" textLength="55.32" lengthAdjust="spacingAndGlyphs">14 Mar 16:00</text>
<rect x="1221" y="818" width="1" height="3" fill="#000"/>
<text x="1220" y="830" font-size="10.2" fill="#000" text-anchor="start" stroke="#000" stroke-width="0.15" textLength="55.32" lengthAdjust="spacingAndGlyphs">15 Mar 08:00</text>
<defs><pattern id="dith" width="2" height="2" patternUnits="userSpaceOnUse"><rect width="2" height="2" fill="#f0f0f0"/><rect width="1" height="1" fill="#fff"/><rect x="1" y="1" width="1" height="1" fill="#fff"/></pattern><linearGradient id="gold" x1="0" y1="0" x2="1" y2="1"><stop offset="0" stop-color="#ffe14a"/><stop offset="1" stop-color="#d08a10"/></linearGradient><linearGradient id="gold2" x1="1" y1="0" x2="0" y2="1"><stop offset="0" stop-color="#f6c820"/><stop offset="0.55" stop-color="#f2c01c"/><stop offset="1" stop-color="#ffe468"/></linearGradient><radialGradient id="sigg" gradientUnits="userSpaceOnUse" cx="118.9" cy="10.7" r="8"><stop offset="0" stop-color="#e8f4e8" stop-opacity="0.2"/><stop offset="1" stop-color="#48a848" stop-opacity="0.8"/></radialGradient><radialGradient id="face" cx="0.5" cy="0.4" r="0.6"><stop offset="0" stop-color="#ffffff"/><stop offset="1" stop-color="#d4d8e0"/></radialGradient><linearGradient id="cloud" x1="0" y1="0" x2="0" y2="1"><stop offset="0" stop-color="#ffffff"/><stop offset="1" stop-color="#a9b9dc"/></linearGradient><linearGradient id="lens" x1="0" y1="0" x2="0" y2="1"><stop offset="0" stop-color="#c4e6f6"/><stop offset="1" stop-color="#f2fbff"/></linearGradient><linearGradient id="gcan" x1="0" y1="0" x2="1" y2="0"><stop offset="0" stop-color="#22c422"/><stop offset="0.5" stop-color="#a8f5a8"/><stop offset="1" stop-color="#22c422"/></linearGradient><radialGradient id="badge" cx="0.5" cy="0.3" r="0.8"><stop offset="0" stop-color="#f0603a"/><stop offset="1" stop-color="#d01800"/></radialGradient><linearGradient id="clk" x1="0" y1="0" x2="0" y2="1"><stop offset="0" stop-color="#3a90f0"/><stop offset="1" stop-color="#0a40b0"/></linearGradient></defs>
<rect x="0" y="6" width="1.5" height="12" fill="#c8c8c8"/>
<rect x="0" y="13" width="4" height="4" fill="#00dd22"/>
<rect x="0" y="16" width="4" height="1" fill="#00a010"/>
<text x="7" y="14.06" font-size="12" fill="#000" text-anchor="start" stroke="#000" stroke-width="0.26" textLength="36" lengthAdjust="spacingAndGlyphs" style="font-family:'Liberation Sans','Noto Sans CJK SC',sans-serif">新订单</text>
<path d="M60.7,3.9 L69.7,10 L71,12.6 L63,19 L54.8,13 Q58.6,9.6 60.7,3.9 Z" fill="#a4680e"/>
<path d="M61.3,5.5 L68.9,10.7 L62.9,15.7 L56.9,12.4 Q60,9.3 61.3,5.5 Z" fill="url(#gold2)"/>
<path d="M56.2,13.3 L62.9,16.9 L62.9,17.9 L56.6,14.2 Z" fill="#e0a428"/>
<path d="M63.8,17.2 L69.8,12.4" stroke="#e6d89c" stroke-width="1" fill="none"/>
<path d="M84.9,4.2 L87.6,3.1 L96.1,3.6 L96.1,12 L84.9,12 Z" fill="#169cff"/>
<path d="M84.9,4.2 L88,6.6 L88,12 L84.9,12 Z" fill="#2aaaff"/>
<path d="M85.6,4.4 L88.4,6.6 L88.4,11.4" stroke="#e8f6ff" stroke-width="0.8" fill="none"/>
<rect x="90.2" y="7.5" width="4.6" height="1.3" fill="#e0f2ff"/>
<path d="M86,18.6 C83,18.6 82.8,14.4 85.4,13.6 C85.4,11.4 88.4,10.8 89.3,12.4 C90.4,10.2 93.8,10.4 94.3,12.9 C96.2,11.9 98.4,13.4 97.8,15.3 C99.2,16.2 98.6,18.6 96.4,18.6 Z" fill="url(#cloud)" stroke="#3f5ca0" stroke-width="1.15"/>
<path d="M118.9,10.7 L126.5,10.1 A7.7,7.7 0 0 1 118.9,18.5 Z" fill="url(#sigg)"/>
<path d="M118.30000000000001,15.2 A4.5,4.5 0 0 1 118.9,6.199999999999999" stroke="#2a60d0" stroke-width="1.2" fill="none" opacity="0.7"/>
<path d="M118.9,6.199999999999999 A4.5,4.5 0 0 1 123.04,8.944999999999999" stroke="#7aa0b8" stroke-width="1.2" fill="none" opacity="0.42"/>
<path d="M123.04,8.944999999999999 A4.5,4.5 0 0 1 120.30000000000001,15.1325" stroke="#3c8c58" stroke-width="1.2" fill="none" opacity="0.7"/>
<path d="M118.30000000000001,18.4 A7.7,7.7 0 0 1 118.9,2.999999999999999" stroke="#2a60d0" stroke-width="1.2" fill="none" opacity="0.55"/>
<path d="M118.9,2.999999999999999 A7.7,7.7 0 0 1 125.98400000000001,7.696999999999999" stroke="#7aa0b8" stroke-width="1.2" fill="none" opacity="0.33"/>
<path d="M125.98400000000001,7.696999999999999 A7.7,7.7 0 0 1 120.30000000000001,18.2845" stroke="#3c8c58" stroke-width="1.2" fill="none" opacity="0.55"/>
<circle cx="118.9" cy="10.7" r="1.9" fill="#2050d0"/>
<rect x="119" y="11.2" width="1.5" height="7.5" fill="#18a818"/>
<path d="M138.6,9.8 L153.6,9.6 L147,19 L144.2,18.6 Z" fill="#f6dc48" stroke="#c8a020" stroke-width="0.8"/>
<ellipse cx="146" cy="7.9" rx="8" ry="2.4" fill="#4ca8dc" stroke="#2a86b8" stroke-width="0.8"/>
<path d="M142.3,8 Q142.6,3.5 145.9,3.5 Q149.2,3.5 149.5,8 Z" fill="#80caf0" stroke="#2a86b8" stroke-width="0.8"/>
<circle cx="150.6" cy="14.7" r="4.2" fill="#e02400" stroke="#a81800" stroke-width="0.8"/>
<rect x="148.9" y="13" width="3.4" height="3.4" fill="#ffffff"/>
<text x="159.5" y="14.06" font-size="12" fill="#000" text-anchor="start" stroke="#000" stroke-width="0.26" textLength="48" lengthAdjust="spacingAndGlyphs" style="font-family:'Liberation Sans','Noto Sans CJK SC',sans-serif">自动交易</text>
<rect x="214" y="0" width="1" height="22" fill="#8c8c8c"/>
<rect x="215" y="0" width="1" height="22" fill="#ffffff"/>
<rect x="218" y="1" width="3" height="1" fill="#a8a8a8"/>
<rect x="218" y="3" width="3" height="1" fill="#a8a8a8"/>
<rect x="218" y="5" width="3" height="1" fill="#a8a8a8"/>
<rect x="218" y="7" width="3" height="1" fill="#a8a8a8"/>
<rect x="218" y="9" width="3" height="1" fill="#a8a8a8"/>
<rect x="218" y="11" width="3" height="1" fill="#a8a8a8"/>
<rect x="218" y="13" width="3" height="1" fill="#a8a8a8"/>
<rect x="218" y="15" width="3" height="1" fill="#a8a8a8"/>
<rect x="218" y="17" width="3" height="1" fill="#a8a8a8"/>
<rect x="218" y="19" width="3" height="1" fill="#a8a8a8"/>
<g fill="#545454">
<rect x="231.6" y="5" width="1.25" height="14" fill="#545454"/>
<rect x="230" y="16.1" width="12.4" height="1.25" fill="#545454"/>
<polygon points="230.2,7 232.29999999999998,4.6 234.4,7"/>
<polygon points="242.0,14.6 244.0,16.7 242.0,18.8"/>
</g>
<rect x="237.8" y="6" width="1.6" height="8.8" fill="#109010"/>
<rect x="239.2" y="7" width="2" height="1.3" fill="#109010"/>
<rect x="236" y="13" width="2" height="1.3" fill="#109010"/>
<rect x="252" y="0" width="1" height="21" fill="#8c8c8c"/>
<rect x="253" y="0" width="24" height="21" fill="url(#dith)"/>
<rect x="277" y="0" width="1" height="22" fill="#ffffff"/>
<rect x="252" y="21" width="25" height="1" fill="#ffffff"/>
<g fill="#545454">
<rect x="259.6" y="5" width="1.25" height="14" fill="#545454"/>
<rect x="258" y="16.1" width="12.4" height="1.25" fill="#545454"/>
<polygon points="258.20000000000005,7 260.3,4.6 262.40000000000003,7"/>
<polygon points="270.0,14.6 272.0,16.7 270.0,18.8"/>
</g>
<rect x="266" y="3" width="1.2" height="11.8" fill="#10a010"/>
<rect x="264.4" y="5.4" width="4.3" height="7.4" fill="url(#gcan)" stroke="#10a010" stroke-width="0.9"/>
<g fill="#545454">
<rect x="287.7" y="5" width="1.25" height="14" fill="#545454"/>
<rect x="286.1" y="16.1" width="12.4" height="1.25" fill="#545454"/>
<polygon points="286.3,7 288.4,4.6 290.5,7"/>
<polygon points="298.09999999999997,14.6 300.09999999999997,16.7 298.09999999999997,18.8"/>
</g>
<path d="M287.4,13.8 Q291,9.6 293.2,8.2 Q295,8.6 296.4,10.4 Q297.6,11.8 298.8,12.3" stroke="#109010" stroke-width="1.3" fill="none"/>
<rect x="309" y="0" width="1" height="21" fill="#8c8c8c"/>
<rect x="310" y="0" width="1" height="21" fill="#ffffff"/>
<line x1="328.3" y1="13.6" x2="333.1" y2="17.9" stroke="#9a7408" stroke-width="3.4" stroke-linecap="butt"/>
<line x1="328.5" y1="13.8" x2="332.70000000000005" y2="17.6" stroke="#ecd040" stroke-width="2"/>
<circle cx="324.1" cy="9" r="5.6" fill="url(#lens)" stroke="#2a72c4" stroke-width="1.2"/>
<rect x="320.5" y="8.2" width="7.2" height="1.8" fill="#3c90b4"/>
<rect x="323.2" y="5.4" width="1.8" height="7.2" fill="#3c90b4"/>
<line x1="356.2" y1="13.6" x2="361" y2="17.9" stroke="#9a7408" stroke-width="3.4" stroke-linecap="butt"/>
<line x1="356.4" y1="13.8" x2="360.6" y2="17.6" stroke="#ecd040" stroke-width="2"/>
<circle cx="352" cy="9" r="5.6" fill="url(#lens)" stroke="#2a72c4" stroke-width="1.2"/>
<rect x="348.4" y="8.2" width="7.2" height="1.8" fill="#3c90b4"/>
<rect x="374" y="3" width="8" height="8" fill="#38a814"/>
<rect x="375" y="6.4" width="6" height="3.4" fill="#ffffff"/>
<rect x="375" y="9.8" width="1.2" height="1" fill="#ffffff"/>
<rect x="379.8" y="9.8" width="1.2" height="1" fill="#ffffff"/>
<rect x="376.2" y="7.6" width="3.6" height="0.8" fill="#38a814" opacity="0.35"/>
<rect x="375" y="4" width="1" height="1" fill="#ffffff" opacity="0.8"/>
<rect x="382" y="3" width="8" height="8" fill="#1444d4"/>
<rect x="383" y="6.4" width="6" height="3.4" fill="#ffffff"/>
<rect x="383" y="9.8" width="1.2" height="1" fill="#ffffff"/>
<rect x="387.8" y="9.8" width="1.2" height="1" fill="#ffffff"/>
<rect x="384.2" y="7.6" width="3.6" height="0.8" fill="#1444d4" opacity="0.35"/>
<rect x="383" y="4" width="1" height="1" fill="#ffffff" opacity="0.8"/>
<rect x="374" y="11" width="8" height="8" fill="#1444d4"/>
<rect x="375" y="14.4" width="6" height="3.4" fill="#ffffff"/>
<rect x="375" y="17.8" width="1.2" height="1" fill="#ffffff"/>
<rect x="379.8" y="17.8" width="1.2" height="1" fill="#ffffff"/>
<rect x="376.2" y="15.6" width="3.6" height="0.8" fill="#1444d4" opacity="0.35"/>
<rect x="375" y="12" width="1" height="1" fill="#ffffff" opacity="0.8"/>
<rect x="382" y="11" width="8" height="8" fill="#38a814"/>
<rect x="383" y="14.4" width="6" height="3.4" fill="#ffffff"/>
<rect x="383" y="17.8" width="1.2" height="1" fill="#ffffff"/>
<rect x="387.8" y="17.8" width="1.2" height="1" fill="#ffffff"/>
<rect x="384.2" y="15.6" width="3.6" height="0.8" fill="#38a814" opacity="0.35"/>
<rect x="383" y="12" width="1" height="1" fill="#ffffff" opacity="0.8"/>
<rect x="399" y="0" width="1" height="21" fill="#8c8c8c"/>
<rect x="400" y="0" width="1" height="21" fill="#ffffff"/>
<rect x="404" y="0" width="1" height="21" fill="#8c8c8c"/>
<rect x="405" y="0" width="24" height="21" fill="url(#dith)"/>
<rect x="429" y="0" width="1" height="22" fill="#ffffff"/>
<rect x="404" y="21" width="25" height="1" fill="#ffffff"/>
<g fill="#545454">
<rect x="411.7" y="5" width="1.25" height="14" fill="#545454"/>
<rect x="410.1" y="16.1" width="12.4" height="1.25" fill="#545454"/>
<polygon points="410.3,7 412.4,4.6 414.5,7"/>
<polygon points="422.09999999999997,14.6 424.09999999999997,16.7 422.09999999999997,18.8"/>
</g>
<polygon points="417.4,7.4 420.8,10.5 417.4,13.6" fill="#a0eaa0" stroke="#10a010" stroke-width="1"/>
<rect x="432" y="0" width="1" height="21" fill="#8c8c8c"/>
<rect x="433" y="0" width="24" height="21" fill="url(#dith)"/>
<rect x="457" y="0" width="1" height="22" fill="#ffffff"/>
<rect x="432" y="21" width="25" height="1" fill="#ffffff"/>
<g fill="#545454">
<rect x="439.8" y="5" width="1.25" height="14" fill="#545454"/>
<rect x="438.2" y="16.1" width="12.4" height="1.25" fill="#545454"/>
<polygon points="438.40000000000003,7 440.5,4.6 442.6,7"/>
<polygon points="450.2,14.6 452.2,16.7 450.2,18.8"/>
</g>
<rect x="445.8" y="5" width="1.5" height="9.8" fill="#1070b0"/>
<path d="M452,10.5 L447.6,10.5 M449.8,8.4 L447.5,10.5 L449.8,12.6" stroke="#d04400" stroke-width="1.3" fill="none"/>
<polygon points="447.3,10.5 450.2,8 450.2,13" fill="#d84800"/>
<rect x="461" y="0" width="1" height="21" fill="#8c8c8c"/>
<rect x="462" y="0" width="1" height="21" fill="#ffffff"/>
<path d="M472,3.6 L480,3.6 L483,6.6 L483,16.6 L472,16.6 Z" fill="#ffffff" stroke="#8a8a8a" stroke-width="0.9"/>
<path d="M480,3.6 L480,6.6 L483,6.6" fill="#e8e8e8" stroke="#8a8a8a" stroke-width="0.7"/>
<path d="M477.4,6 Q475.6,5.6 475.6,8 L475.6,13.4 M474.4,9 L477,9" stroke="#504030" stroke-width="0.9" fill="none"/>
<path d="M479.2,9.3 L482.8,9.3 L482.8,13 L486.5,13 L486.5,16.6 L482.8,16.6 L482.8,20.3 L479.2,20.3 L479.2,16.6 L475.6,16.6 L475.6,13 L479.2,13 Z" fill="#28d028" stroke="#0c800c" stroke-width="0.9"/>
<path d="M480.2,10.3 L482,10.3 M476.6,14 L479.6,14" stroke="#a0f8a0" stroke-width="0.9"/>
<polygon points="493,10 498.4,10 495.7,13" fill="#000"/>
<circle cx="517.1" cy="10.9" r="6.85" fill="url(#face)" stroke="url(#clk)" stroke-width="2.4"/>
<circle cx="517.10" cy="6.40" r="0.4" fill="#707880"/>
<circle cx="519.35" cy="7.00" r="0.4" fill="#707880"/>
<circle cx="521.00" cy="8.65" r="0.4" fill="#707880"/>
<circle cx="521.60" cy="10.90" r="0.4" fill="#707880"/>
<circle cx="521.00" cy="13.15" r="0.4" fill="#707880"/>
<circle cx="519.35" cy="14.80" r="0.4" fill="#707880"/>
<circle cx="517.10" cy="15.40" r="0.4" fill="#707880"/>
<circle cx="514.85" cy="14.80" r="0.4" fill="#707880"/>
<circle cx="513.20" cy="13.15" r="0.4" fill="#707880"/>
<circle cx="512.60" cy="10.90" r="0.4" fill="#707880"/>
<circle cx="513.20" cy="8.65" r="0.4" fill="#707880"/>
<circle cx="514.85" cy="7.00" r="0.4" fill="#707880"/>
<path d="M516.5,7.6 L516.9,10.9 L519.8,11.3" stroke="#000" stroke-width="1.4" fill="none"/>
<path d="M516.4,13.8 L517.8,13.8" stroke="#60a0f0" stroke-width="0.9"/>
<polygon points="532,10 537.4,10 534.7,13" fill="#000"/>
<rect x="548" y="4" width="16" height="14" fill="#2f6fc4"/>
<rect x="548.8" y="4.6" width="14.4" height="1.8" fill="#6aa6e8"/>
<rect x="549" y="6.8" width="14" height="5.1" fill="#ffffff"/>
<rect x="549" y="12.7" width="14" height="4.5" fill="#ffffff"/>
<path d="M550.2,10.2 L552.2,10.2 L554,8.6 L555.6,8.4 L557,9.2 L559,9.2 L561,8.2 L562.4,8.2" stroke="#8c2008" stroke-width="1.35" fill="none"/>
<path d="M551,15.6 L552.8,15.2 L554.4,15.8 L556,15 L557.4,13.6 L559,13.4 L560.4,14.6 L561.8,15.8" stroke="#0c8418" stroke-width="1.35" fill="none"/>
<polygon points="571,10 576.4,10 573.7,13" fill="#000"/>
<rect x="582" y="0" width="1" height="22" fill="#8c8c8c"/>
<rect x="583" y="0" width="1" height="22" fill="#ffffff"/>
<rect x="586" y="1" width="3" height="1" fill="#a8a8a8"/>
<rect x="586" y="3" width="3" height="1" fill="#a8a8a8"/>
<rect x="586" y="5" width="3" height="1" fill="#a8a8a8"/>
<rect x="586" y="7" width="3" height="1" fill="#a8a8a8"/>
<rect x="586" y="9" width="3" height="1" fill="#a8a8a8"/>
<rect x="586" y="11" width="3" height="1" fill="#a8a8a8"/>
<rect x="586" y="13" width="3" height="1" fill="#a8a8a8"/>
<rect x="586" y="15" width="3" height="1" fill="#a8a8a8"/>
<rect x="586" y="17" width="3" height="1" fill="#a8a8a8"/>
<rect x="586" y="19" width="3" height="1" fill="#a8a8a8"/>
<rect x="592" y="0" width="1" height="21" fill="#8c8c8c"/>
<rect x="593" y="0" width="24" height="21" fill="url(#dith)"/>
<rect x="617" y="0" width="1" height="22" fill="#ffffff"/>
<rect x="592" y="21" width="25" height="1" fill="#ffffff"/>
<polygon points="600,4 600,15.1 602.7,13 605.2,18 606.6,17.3 604.4,12.3 608.1,11.5" fill="#484848"/>
<rect x="625" y="10.8" width="6" height="1.3" fill="#484848"/>
<rect x="634" y="10.8" width="6" height="1.3" fill="#484848"/>
<rect x="631.7" y="4" width="1.3" height="6" fill="#484848"/>
<rect x="631.7" y="13" width="1.3" height="6" fill="#484848"/>
<rect x="632" y="11" width="0.8" height="0.8" fill="#484848"/>
<rect x="649" y="0" width="1" height="21" fill="#8c8c8c"/>
<rect x="650" y="0" width="1" height="21" fill="#ffffff"/>
<rect x="665.8" y="5" width="1.3" height="13" fill="#484848"/>
<rect x="689" y="10.8" width="12" height="1.3" fill="#484848"/>
<line x1="716.9" y1="17.9" x2="729.1" y2="5.8" stroke="#484848" stroke-width="1.05"/>
<g stroke="#484848" stroke-width="1" fill="none"><path d="M742.8,12.6 L751.1,5 M748.2,17.7 L756.9,9.4"/><path d="M745,10.8 L746.6,15.8 L748.6,8.6 L750.4,14 L752.4,6.6 L754.2,11.4 L754.6,3.4" stroke-width="0.8"/></g>
<text x="753.6" y="19.6" font-size="6.6" fill="#484848" text-anchor="start" stroke="#484848" stroke-width="0.15" textLength="4.60" lengthAdjust="spacingAndGlyphs" font-weight="bold">E</text>
<rect x="772.2" y="4" width="1.1" height="1.1" fill="#484848"/>
<rect x="774.2" y="4" width="1.1" height="1.1" fill="#484848"/>
<rect x="776.2" y="4" width="1.1" height="1.1" fill="#484848"/>
<rect x="778.2" y="4" width="1.1" height="1.1" fill="#484848"/>
<rect x="780.2" y="4" width="1.1" height="1.1" fill="#484848"/>
<rect x="782.2" y="4" width="1.1" height="1.1" fill="#484848"/>
<rect x="784.2" y="4" width="1.1" height="1.1" fill="#484848"/>
<rect x="772.2" y="6.7" width="1.1" height="1.1" fill="#484848"/>
<rect x="774.2" y="6.7" width="1.1" height="1.1" fill="#484848"/>
<rect x="776.2" y="6.7" width="1.1" height="1.1" fill="#484848"/>
<rect x="778.2" y="6.7" width="1.1" height="1.1" fill="#484848"/>
<rect x="780.2" y="6.7" width="1.1" height="1.1" fill="#484848"/>
<rect x="782.2" y="6.7" width="1.1" height="1.1" fill="#484848"/>
<rect x="784.2" y="6.7" width="1.1" height="1.1" fill="#484848"/>
<rect x="772.2" y="10.9" width="1.1" height="1.1" fill="#484848"/>
<rect x="774.2" y="10.9" width="1.1" height="1.1" fill="#484848"/>
<rect x="776.2" y="10.9" width="1.1" height="1.1" fill="#484848"/>
<rect x="778.2" y="10.9" width="1.1" height="1.1" fill="#484848"/>
<rect x="780.2" y="10.9" width="1.1" height="1.1" fill="#484848"/>
<rect x="782.2" y="10.9" width="1.1" height="1.1" fill="#484848"/>
<rect x="784.2" y="10.9" width="1.1" height="1.1" fill="#484848"/>
<rect x="772.2" y="14.9" width="1.1" height="1.1" fill="#484848"/>
<rect x="774.2" y="14.9" width="1.1" height="1.1" fill="#484848"/>
<rect x="776.2" y="14.9" width="1.1" height="1.1" fill="#484848"/>
<rect x="778.2" y="14.9" width="1.1" height="1.1" fill="#484848"/>
<rect x="780.2" y="14.9" width="1.1" height="1.1" fill="#484848"/>
<text x="781.9" y="19.6" font-size="6.6" fill="#484848" text-anchor="start" stroke="#484848" stroke-width="0.15" textLength="4.20" lengthAdjust="spacingAndGlyphs" font-weight="bold">F</text>
<text x="803" y="15.9" font-size="12.2" fill="#484848" text-anchor="start" stroke="#484848" stroke-width="0.15" textLength="7.40" lengthAdjust="spacingAndGlyphs" font-weight="bold">A</text>
<rect x="829" y="5.2" width="1.1" height="1.1" fill="#484848"/>
<rect x="829" y="17.2" width="1.1" height="1.1" fill="#484848"/>
<rect x="831" y="5.2" width="1.1" height="1.1" fill="#484848"/>
<rect x="831" y="17.2" width="1.1" height="1.1" fill="#484848"/>
<rect x="833" y="5.2" width="1.1" height="1.1" fill="#484848"/>
<rect x="833" y="17.2" width="1.1" height="1.1" fill="#484848"/>
<rect x="835" y="5.2" width="1.1" height="1.1" fill="#484848"/>
<rect x="835" y="17.2" width="1.1" height="1.1" fill="#484848"/>
<rect x="837" y="5.2" width="1.1" height="1.1" fill="#484848"/>
<rect x="837" y="17.2" width="1.1" height="1.1" fill="#484848"/>
<rect x="839" y="5.2" width="1.1" height="1.1" fill="#484848"/>
<rect x="839" y="17.2" width="1.1" height="1.1" fill="#484848"/>
<rect x="829" y="5.2" width="1.1" height="1.1" fill="#484848"/>
<rect x="840" y="5.2" width="1.1" height="1.1" fill="#484848"/>
<rect x="829" y="7.2" width="1.1" height="1.1" fill="#484848"/>
<rect x="840" y="7.2" width="1.1" height="1.1" fill="#484848"/>
<rect x="829" y="9.2" width="1.1" height="1.1" fill="#484848"/>
<rect x="840" y="9.2" width="1.1" height="1.1" fill="#484848"/>
<rect x="829" y="11.2" width="1.1" height="1.1" fill="#484848"/>
<rect x="840" y="11.2" width="1.1" height="1.1" fill="#484848"/>
<rect x="829" y="13.2" width="1.1" height="1.1" fill="#484848"/>
<rect x="840" y="13.2" width="1.1" height="1.1" fill="#484848"/>
<rect x="829" y="15.2" width="1.1" height="1.1" fill="#484848"/>
<rect x="840" y="15.2" width="1.1" height="1.1" fill="#484848"/>
<rect x="829" y="17.2" width="1.1" height="1.1" fill="#484848"/>
<rect x="840" y="17.2" width="1.1" height="1.1" fill="#484848"/>
<rect x="828.6" y="4.4" width="2" height="1.2" fill="#484848"/>
<rect x="831" y="8" width="8.2" height="1.6" fill="#484848"/>
<rect x="834.2" y="8" width="1.8" height="7.6" fill="#484848"/>
<g fill="#484848"><polygon points="856,8.8 859.6,5 863.2,8.8 861.2,9.6 858,9.6"/><polygon points="863.2,14.2 866.6,17.8 870.1,14.2 868,13.4 865.2,13.4"/></g>
<path d="M858.4,12.4 L860.4,14.4 L864.8,9.4" stroke="#484848" stroke-width="1.3" fill="none"/>
<polygon points="876.8,10 882.1999999999999,10 879.5,13" fill="#000"/>
<rect x="888" y="0" width="1" height="22" fill="#8c8c8c"/>
<rect x="889" y="0" width="1" height="22" fill="#ffffff"/>
<rect x="892" y="1" width="3" height="1" fill="#a8a8a8"/>
<rect x="892" y="3" width="3" height="1" fill="#a8a8a8"/>
<rect x="892" y="5" width="3" height="1" fill="#a8a8a8"/>
<rect x="892" y="7" width="3" height="1" fill="#a8a8a8"/>
<rect x="892" y="9" width="3" height="1" fill="#a8a8a8"/>
<rect x="892" y="11" width="3" height="1" fill="#a8a8a8"/>
<rect x="892" y="13" width="3" height="1" fill="#a8a8a8"/>
<rect x="892" y="15" width="3" height="1" fill="#a8a8a8"/>
<rect x="892" y="17" width="3" height="1" fill="#a8a8a8"/>
<rect x="892" y="19" width="3" height="1" fill="#a8a8a8"/>
<rect x="1038" y="0" width="1" height="21" fill="#8c8c8c"/>
<rect x="1039" y="0" width="24" height="21" fill="url(#dith)"/>
<rect x="1063" y="0" width="1" height="22" fill="#ffffff"/>
<rect x="1038" y="21" width="25" height="1" fill="#ffffff"/>
<text x="903.8" y="15" font-size="10.2" fill="#404040" text-anchor="start" stroke="#404040" stroke-width="0" textLength="12.20" lengthAdjust="spacingAndGlyphs">M1</text>
<text x="931.8" y="15" font-size="10.2" fill="#404040" text-anchor="start" stroke="#404040" stroke-width="0" textLength="12.40" lengthAdjust="spacingAndGlyphs">M5</text>
<text x="957.9" y="15" font-size="10.2" fill="#404040" text-anchor="start" stroke="#404040" stroke-width="0" textLength="17.20" lengthAdjust="spacingAndGlyphs">M15</text>
<text x="985.8" y="15" font-size="10.2" fill="#404040" text-anchor="start" stroke="#404040" stroke-width="0" textLength="17.30" lengthAdjust="spacingAndGlyphs">M30</text>
<text x="1017" y="15" font-size="10.2" fill="#404040" text-anchor="start" stroke="#404040" stroke-width="0" textLength="11.10" lengthAdjust="spacingAndGlyphs">H1</text>
<text x="1043.7" y="15" font-size="10.2" fill="#404040" text-anchor="start" stroke="#404040" stroke-width="0" textLength="12.00" lengthAdjust="spacingAndGlyphs">H4</text>
<text x="1072.7" y="15" font-size="10.2" fill="#404040" text-anchor="start" stroke="#404040" stroke-width="0" textLength="11.30" lengthAdjust="spacingAndGlyphs">D1</text>
<text x="1100.2" y="15" font-size="10.2" fill="#404040" text-anchor="start" stroke="#404040" stroke-width="0" textLength="13.90" lengthAdjust="spacingAndGlyphs">W1</text>
<text x="1126.7" y="15" font-size="10.2" fill="#404040" text-anchor="start" stroke="#404040" stroke-width="0" textLength="14.50" lengthAdjust="spacingAndGlyphs">MN</text>
<rect x="1149" y="0" width="1" height="22" fill="#8c8c8c"/>
<rect x="1150" y="0" width="1" height="22" fill="#ffffff"/>
<line x1="1616.6" y1="11.8" x2="1612" y2="16" stroke="#2a5ccc" stroke-width="2" stroke-linecap="round"/>
<circle cx="1619.7" cy="8.5" r="3.7" fill="#f4f8ff" stroke="#2a5ccc" stroke-width="1.3"/>
<path d="M1637,13.4 a5.4,4.6 0 1 1 4.4,3.8 l-2,2 l-0.4,-2.6 a5,5 0 0 1 -2,-3.2 Z" fill="#e4e6ee" stroke="#a4a4a8" stroke-width="0.8"/>
<circle cx="1650.5" cy="8.2" r="8.2" fill="url(#badge)"/>
<path d="M1647.3,6.4 L1649.4,4.8 L1650,4.8 L1650,12.4 M1647.2,12.5 L1652.2,12.5" stroke="#fff" stroke-width="1.25" fill="none"/>
</svg>
</body></html>
